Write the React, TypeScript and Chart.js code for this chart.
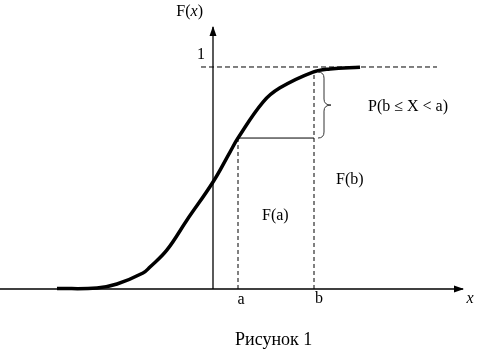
import React, { useEffect, useRef } from "react";
import { Chart, registerables } from "chart.js";

Chart.register(...registerables);

// Distribution function F(x) (x in arbitrary units, F in [0,1])
const curveX = [-3.12, -2.32, -1.92, -1.4, -1.26, -0.92, -0.52, 0, 0.34, 0.5, 1.0, 1.34, 2.0, 2.34, 2.94];
const curveF = [0.002, 0.0045, 0.0225, 0.072, 0.099, 0.176, 0.311, 0.482, 0.617, 0.68, 0.842, 0.906, 0.977, 0.991, 0.999];

// Marked points
const pointA = 0.5;
const pointB = 2.02;
const valueFa = 0.68;
const valueFb = 0.977;

// Axis extents
const xAxisRange = [-4.26, 5.0];
const yAxisRange = [0, 1.18];
const oneLineRange = [-0.24, 4.48];

// Texts
const yAxisTitle = ["F(", "x", ")"];
const xAxisTitle = "x";
const oneLabel = "1";
const probLabel = "P(b \u2264 X < a)";
const fbLabel = "F(b)";
const faLabel = "F(a)";
const aLabel = "a";
const bLabel = "b";
const caption = "Рисунок 1";

const X_MIN = -4.26;
const X_MAX = 5.36;
const Y_MIN = -0.28829;
const Y_MAX = 1.3018;

const FONT = '"Liberation Serif", "Times New Roman", serif';

const App: React.FC = () => {
  const canvasRef = useRef<HTMLCanvasElement | null>(null);

  useEffect(() => {
    document.body.style.margin = "0";
    const canvas = canvasRef.current;
    if (!canvas) return;

    const overlay = {
      id: "overlay",
      afterDatasetsDraw(chart: any) {
        const ctx = chart.ctx as CanvasRenderingContext2D;
        const xs = chart.scales.x;
        const ys = chart.scales.y;
        const px = (v: number) => xs.getPixelForValue(v);
        const py = (v: number) => ys.getPixelForValue(v);
        ctx.save();
        ctx.fillStyle = "#000";
        ctx.strokeStyle = "#000";

        // arrowheads
        const tipX = px(xAxisRange[1]);
        const y0 = py(0);
        ctx.beginPath();
        ctx.moveTo(tipX + 1, y0);
        ctx.lineTo(tipX - 9, y0 - 3.5);
        ctx.lineTo(tipX - 9, y0 + 3.5);
        ctx.closePath();
        ctx.fill();
        const x0 = px(0);
        const tipY = py(yAxisRange[1]);
        ctx.beginPath();
        ctx.moveTo(x0, tipY - 1);
        ctx.lineTo(x0 - 3.5, tipY + 9);
        ctx.lineTo(x0 + 3.5, tipY + 9);
        ctx.closePath();
        ctx.fill();

        // brace
        const bx = px(pointB);
        const top = py(valueFb);
        const bottom = py(valueFa);
        const mid = (top + bottom) / 2;
        const xe = bx + 4;
        const xb = bx + 10;
        const xt = bx + 17;
        ctx.strokeStyle = "#333";
        ctx.lineWidth = 1;
        ctx.beginPath();
        ctx.moveTo(xe, top);
        ctx.quadraticCurveTo(xb, top, xb, top + 6);
        ctx.lineTo(xb, mid - 6);
        ctx.quadraticCurveTo(xb, mid, xt, mid);
        ctx.quadraticCurveTo(xb, mid, xb, mid + 6);
        ctx.lineTo(xb, bottom - 6);
        ctx.quadraticCurveTo(xb, bottom, xe, bottom);
        ctx.stroke();

        // texts
        ctx.fillStyle = "#000";
        ctx.textBaseline = "middle";
        ctx.font = `16px ${FONT}`;
        const w1 = ctx.measureText(yAxisTitle[0]).width;
        ctx.font = `italic 16px ${FONT}`;
        const w2 = ctx.measureText(yAxisTitle[1]).width;
        ctx.font = `16px ${FONT}`;
        const w3 = ctx.measureText(yAxisTitle[2]).width;
        let tx = px(-0.2) - (w1 + w2 + w3);
        const ty = py(1.2477);
        ctx.textAlign = "left";
        ctx.fillText(yAxisTitle[0], tx, ty);
        tx += w1;
        ctx.font = `italic 16px ${FONT}`;
        ctx.fillText(yAxisTitle[1], tx, ty);
        tx += w2;
        ctx.font = `16px ${FONT}`;
        ctx.fillText(yAxisTitle[2], tx, ty);

        ctx.textAlign = "right";
        ctx.fillText(oneLabel, px(-0.16), py(1.054));

        ctx.textAlign = "left";
        ctx.fillText(probLabel, px(3.1), py(0.82));
        ctx.fillText(fbLabel, px(2.46), py(0.491));
        ctx.fillText(faLabel, px(0.98), py(0.329));

        ctx.textAlign = "center";
        ctx.fillText(aLabel, px(pointA) + 3, py(-0.05));
        ctx.fillText(bLabel, px(pointB) + 5, py(-0.045));
        ctx.font = `italic 16px ${FONT}`;
        ctx.fillText(xAxisTitle, px(5.14), py(-0.045));

        ctx.font = `18px ${FONT}`;
        ctx.textAlign = "left";
        ctx.fillText(caption, px(0.44), py(-0.23));
        ctx.restore();
      },
    };

    const line = (data: { x: number; y: number }[], extra: any = {}) => ({
      data,
      showLine: true,
      pointRadius: 0,
      borderColor: "#000",
      borderWidth: 1,
      fill: false,
      clip: false,
      ...extra,
    });

    const chart = new Chart(canvas, {
      type: "scatter",
      data: {
        datasets: [
          line([{ x: xAxisRange[0], y: 0 }, { x: xAxisRange[1], y: 0 }], { borderWidth: 1.3 }),
          line([{ x: 0, y: yAxisRange[0] }, { x: 0, y: yAxisRange[1] }], { borderWidth: 1.3 }),
          line([{ x: oneLineRange[0], y: 1 }, { x: oneLineRange[1], y: 1 }], { borderDash: [5, 3] }),
          line([{ x: pointA, y: 0 }, { x: pointA, y: valueFa }], { borderDash: [4, 3] }),
          line([{ x: pointB, y: 0 }, { x: pointB, y: valueFb }], { borderDash: [4, 3] }),
          line([{ x: pointA, y: valueFa }, { x: pointB, y: valueFa }]),
          line(
            curveX.map((x, i) => ({ x, y: curveF[i] })),
            { borderWidth: 3.5, tension: 0.4, borderCapStyle: "butt", borderJoinStyle: "round" }
          ),
        ],
      },
      options: {
        animation: false,
        responsive: false,
        maintainAspectRatio: false,
        layout: { padding: 0 },
        plugins: { legend: { display: false }, tooltip: { enabled: false }, title: { display: false } },
        scales: {
          x: { type: "linear", display: false, min: X_MIN, max: X_MAX },
          y: { type: "linear", display: false, min: Y_MIN, max: Y_MAX },
        },
      },
      plugins: [overlay],
    } as any);

    return () => chart.destroy();
  }, []);

  return (
    <div style={{ width: 481, height: 353, background: "#fff" }}>
      <canvas ref={canvasRef} width={481} height={353} />
    </div>
  );
};

export default App;
